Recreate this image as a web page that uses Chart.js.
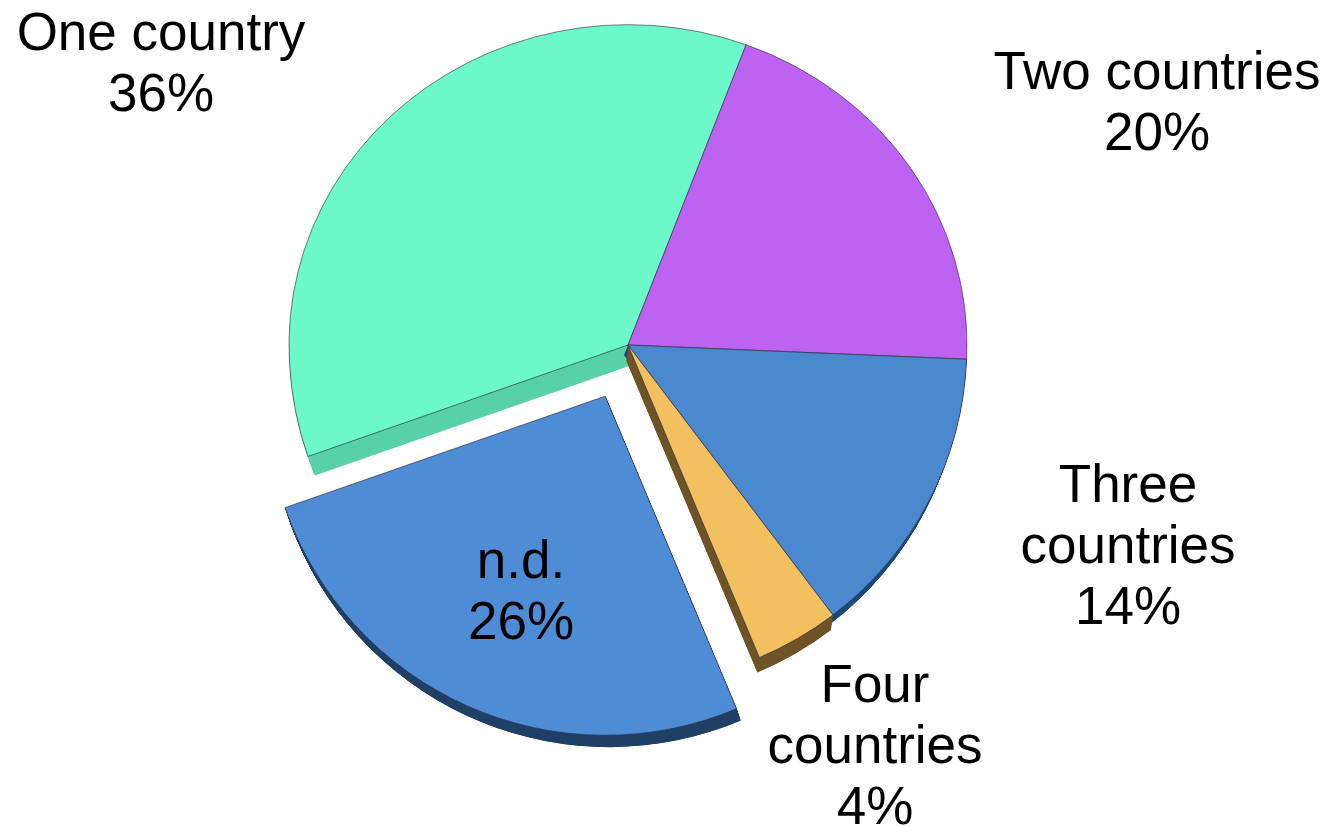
<!DOCTYPE html>
<html>
<head>
<meta charset="utf-8">
<title>Countries pie</title>
<script src="https://cdn.jsdelivr.net/npm/chart.js@4/dist/chart.umd.min.js"></script>
<style>
  html, body { margin: 0; padding: 0; background: #fff; overflow: hidden; }
  canvas { display: block; }
</style>
</head>
<body>
<canvas id="pie" width="1327" height="827"></canvas>
<script>
// Data
const categories = ['One country', 'Two countries', 'Three countries', 'Four countries', 'n.d.'];
const shares = [36, 20, 14, 4, 26];

// Styles, same order as the categories
const faceColors = ['#6CF9C9', '#BE62F2', '#4A88D0', '#F2C05F', '#4E8DD6'];
const sideColors = ['#57D1A8', null, '#1C4A78', '#6E5326', '#1F3F66'];
const sideShift = [[7, 19], null, [-4, 10], [-2, 15], [4, 12]];
const sliceOffset = [0, 0, 0, 0, 224]; // chart.js moves an arc by offset / 4

// Label layout: one entry per category, line breaks are only in the picture
const labelLines = [['One country'], ['Two countries'], ['Three', 'countries'], ['Four', 'countries'], ['n.d.']];
const labelAnchor = [[161, 50], [1157, 89], [1128, 502], [875, 702], [521, 578]];
const LINE_HEIGHT = 61;
const TOP_SQUASH = 0.945; // upper half of the tilted disc looks flatter

const tiltedPie = {
    id: 'tiltedPie',
    beforeDatasetsDraw(chart) {
        const ctx = chart.ctx;
        const arcs = chart.getDatasetMeta(0).data;
        const { x: cx, y: cy } = arcs[0];

        // Side walls first, the faces cover what should not show.
        // Only the lower half has a visible wall.
        ctx.save();
        ctx.beginPath();
        ctx.rect(0, cy, chart.width, chart.height - cy);
        ctx.clip();
        arcs.forEach((arc, i) => {
            if (!sideShift[i]) return;
            const mid = (arc.startAngle + arc.endAngle) / 2;
            const off = sliceOffset[i] / 4;
            const ox = arc.x + Math.cos(mid) * off;
            const oy = arc.y + Math.sin(mid) * off;
            const [dx, dy] = sideShift[i];
            ctx.fillStyle = sideColors[i];
            for (let t = 1; t <= 40; t++) {
                const sx = ox + dx * t / 40;
                const sy = oy + dy * t / 40;
                ctx.beginPath();
                ctx.moveTo(sx, sy);
                ctx.arc(sx, sy, arc.outerRadius, arc.startAngle, arc.endAngle);
                ctx.closePath();
                ctx.fill();
            }
        });
        ctx.restore();

        // Upper half squashed, lower half as it is
        ctx.save();
        ctx.beginPath();
        ctx.rect(0, 0, chart.width, cy + 0.5);
        ctx.clip();
        ctx.translate(cx, cy);
        ctx.scale(1, TOP_SQUASH);
        ctx.translate(-cx, -cy);
        arcs.forEach(arc => arc.draw(ctx));
        ctx.restore();

        ctx.save();
        ctx.beginPath();
        ctx.rect(0, cy, chart.width, chart.height - cy);
        ctx.clip();
        arcs.forEach(arc => arc.draw(ctx));
        ctx.restore();

        return false;
    },
    afterDraw(chart) {
        const ctx = chart.ctx;
        ctx.save();
        ctx.fillStyle = '#000';
        ctx.font = '53px "Liberation Sans", Arial, sans-serif';
        ctx.textAlign = 'center';
        ctx.textBaseline = 'alphabetic';
        categories.forEach((name, i) => {
            const lines = labelLines[i].concat(shares[i] + '%');
            lines.forEach((line, n) => {
                ctx.fillText(line, labelAnchor[i][0], labelAnchor[i][1] + n * LINE_HEIGHT);
            });
        });
        ctx.restore();
    }
};

new Chart(document.getElementById('pie').getContext('2d'), {
    type: 'pie',
    data: {
        labels: categories,
        datasets: [{
            data: shares,
            backgroundColor: faceColors,
            borderColor: 'rgba(45, 45, 70, 0.65)',
            borderWidth: 1,
            offset: sliceOffset
        }]
    },
    options: {
        responsive: false,
        animation: false,
        events: [],
        rotation: 250.8,
        radius: 339,
        layout: { padding: { right: 71, bottom: 137 } },
        plugins: {
            legend: { display: false },
            tooltip: { enabled: false }
        }
    },
    plugins: [tiltedPie]
});
</script>
</body>
</html>
